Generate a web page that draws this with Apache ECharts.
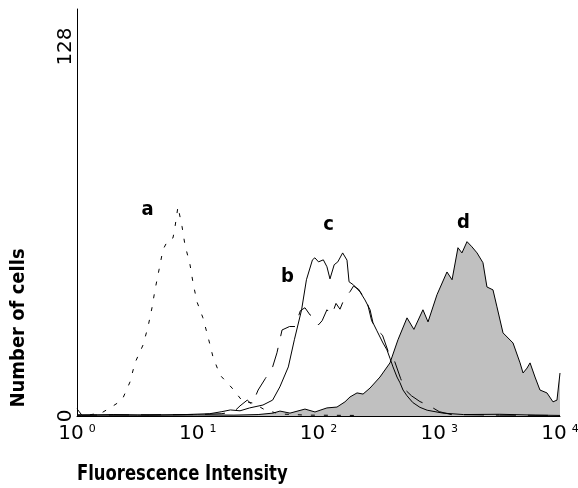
<!DOCTYPE html>
<html><head><meta charset="utf-8">
<script src="https://cdn.jsdelivr.net/npm/echarts@6/dist/echarts.min.js"></script>
<style>html,body{margin:0;padding:0;background:#fff}#c{width:578px;height:488px}</style>
</head><body><div id="c"></div>
<script>
// x values are log10(fluorescence intensity); y values are cell counts
const xExponents = ['0', '1', '2', '3', '4'];
const yTickValues = [0, 128];
const xTitle = 'Fluorescence Intensity';
const yTitle = 'Number of cells';

const curveA = [[0,0.3],[0.1,0.4],[0.2,1.0],[0.273,2.8],[0.373,5.5],[0.439,11.8],[0.48,18.4],[0.547,24.6],[0.588,30.9],[0.621,37.5],[0.646,43.7],[0.679,50.6],[0.712,57.6],[0.754,61.0],[0.795,61.7],[0.812,65.6],[0.836,72.5],[0.87,65.6],[0.894,59.3],[0.936,52.4],[0.961,46.1],[0.994,39.5],[1.043,34.0],[1.085,27.4],[1.126,20.5],[1.184,14.2],[1.284,9.7],[1.375,4.9],[1.458,4.5],[1.557,2.1],[1.68,0.7],[1.9,0.3],[2.3,0.2]];

const curveB = [[0,0.3],[0.5,0.4],[1.0,0.5],[1.2,0.8],[1.3,1.5],[1.35,3.5],[1.41,5.5],[1.45,4],[1.50,9],[1.56,13],[1.62,17],[1.656,21.9],[1.698,29.8],[1.76,31],[1.805,31],[1.85,36.5],[1.888,37.5],[1.93,35],[1.97,34.3],[2.00,31.6],[2.03,33],[2.07,36.8],[2.11,35],[2.145,39],[2.178,37],[2.22,41.3],[2.26,43],[2.29,45],[2.33,44],[2.37,41.5],[2.40,40],[2.44,33],[2.48,30],[2.53,28],[2.58,22],[2.63,19],[2.68,13],[2.72,9],[2.77,7],[2.84,5],[2.92,3.5],[3.00,1.5],[3.1,0.5],[3.5,0.3],[4,0.2]];

const curveC = [[0,2.5],[0.04,0.3],[0.3,0.5],[0.6,0.3],[0.9,0.5],[1.1,0.8],[1.2,1.5],[1.27,2.1],[1.35,1.8],[1.43,2.8],[1.54,3.8],[1.62,5.5],[1.68,10.1],[1.75,17],[1.80,26.4],[1.86,36.8],[1.90,47.2],[1.95,54.1],[1.97,54.8],[2.00,53.4],[2.04,54.1],[2.07,51.7],[2.095,47.5],[2.13,52.4],[2.16,53.4],[2.20,56.5],[2.236,54],[2.253,46.5],[2.29,45.4],[2.344,43],[2.385,40.2],[2.427,36.8],[2.451,32.3],[2.484,29.5],[2.534,25.3],[2.567,22.9],[2.592,20],[2.617,17],[2.65,13.5],[2.675,11.5],[2.70,9],[2.733,7],[2.78,4.7],[2.84,3],[2.90,2],[3.03,1.0],[3.2,0.5],[3.5,0.6],[3.8,0.3],[4,0.2]];

const curveD = [[0,0.3],[0.5,0.3],[1.0,0.4],[1.3,0.3],[1.5,0.5],[1.623,1.0],[1.681,1.7],[1.764,1.0],[1.888,2.4],[1.971,1.4],[2.07,2.8],[2.153,3.1],[2.219,4.9],[2.261,6.6],[2.319,8.0],[2.369,7.6],[2.427,9.7],[2.509,13.5],[2.592,18.4],[2.658,26.4],[2.733,34.0],[2.79,30],[2.865,36.8],[2.907,32.6],[2.981,42.0],[3.064,49.9],[3.106,47.2],[3.155,58.3],[3.188,56.5],[3.23,60.4],[3.271,58.6],[3.313,56.5],[3.362,53.1],[3.395,44.7],[3.445,43.7],[3.478,37.8],[3.528,28.8],[3.611,25.3],[3.669,18.4],[3.694,14.9],[3.727,16.6],[3.752,18.4],[3.793,13.5],[3.834,9.0],[3.892,8.0],[3.942,4.9],[3.975,5.5],[4.0,14.9]];

const curveNames = ['a', 'b', 'c', 'd'];
const curveLabelX = [0.588, 1.747, 2.087, 3.205];
const curveLabelY = [71.1, 48.2, 66.2, 66.6];

const boldNarrow = '"Liberation Sans Narrow", "DejaVu Sans Condensed", "Roboto Condensed", sans-serif';

const chart = echarts.init(document.getElementById('c'), null, {renderer: 'canvas'});
const lineBase = {type: 'line', symbol: 'none', smooth: false, silent: true};
const option = {
  animation: false,
  grid: {left: 77, right: 18, top: 9, bottom: 72, containLabel: false, outerBoundsMode: 'none'},
  xAxis: {
    type: 'value', min: 0, max: 4, interval: 1,
    axisLine: {show: true, lineStyle: {color: '#000', width: 1}},
    axisTick: {show: false}, splitLine: {show: false},
    axisLabel: {
      margin: 8,
      formatter: v => '{b|10}{s|' + xExponents[Math.round(v)] + '}',
      rich: {
        b: {fontFamily: 'DejaVu Sans', fontSize: 20, color: '#000', lineHeight: 20, verticalAlign: 'top'},
        s: {fontFamily: 'DejaVu Sans', fontSize: 11, color: '#000', verticalAlign: 'top', padding: [0, 0, 0, 5], lineHeight: 12}
      }
    }
  },
  yAxis: {
    type: 'value', min: 0, max: 141, interval: 128,
    axisLine: {show: true, lineStyle: {color: '#000', width: 1}},
    axisTick: {show: false}, splitLine: {show: false},
    axisLabel: {
      rotate: 90, margin: 1, fontFamily: 'DejaVu Sans', fontSize: 20, color: '#000',
      formatter: v => yTickValues.indexOf(v) >= 0 ? String(v) : ''
    }
  },
  graphic: [
    {type: 'text', x: 77, y: 464, scaleX: 0.87, style: {text: xTitle, font: 'bold 21px ' + boldNarrow, fill: '#000'}},
    {type: 'text', x: 19, y: 328, rotation: Math.PI / 2,
     style: {text: yTitle, font: 'bold 20px ' + boldNarrow, fill: '#000', align: 'center', verticalAlign: 'middle'}}
  ],
  series: [
    Object.assign({}, lineBase, {name: 'd', data: curveD, z: 2,
      lineStyle: {color: '#000', width: 1},
      areaStyle: {color: '#c0c0c0', opacity: 1, origin: 'start'}}),
    Object.assign({}, lineBase, {name: 'c', data: curveC, z: 3, lineStyle: {color: '#000', width: 1}}),
    Object.assign({}, lineBase, {name: 'b', data: curveB, z: 3, lineStyle: {color: '#000', width: 1, type: [20, 12]}}),
    Object.assign({}, lineBase, {name: 'a', data: curveA, z: 3, lineStyle: {color: '#000', width: 1, type: [4, 9]}}),
    {type: 'scatter', silent: true, z: 4, symbolSize: 1, itemStyle: {color: 'rgba(255,255,255,0)'},
     data: curveNames.map((n, i) => [curveLabelX[i], curveLabelY[i], n]),
     label: {show: true, position: [0, 0], align: 'center', verticalAlign: 'middle', formatter: p => p.data[2],
       fontFamily: boldNarrow, fontWeight: 'bold', fontSize: 20, color: '#000', textBorderWidth: 0, opacity: 1}}
  ]
};
chart.setOption(option);
</script></body></html>
